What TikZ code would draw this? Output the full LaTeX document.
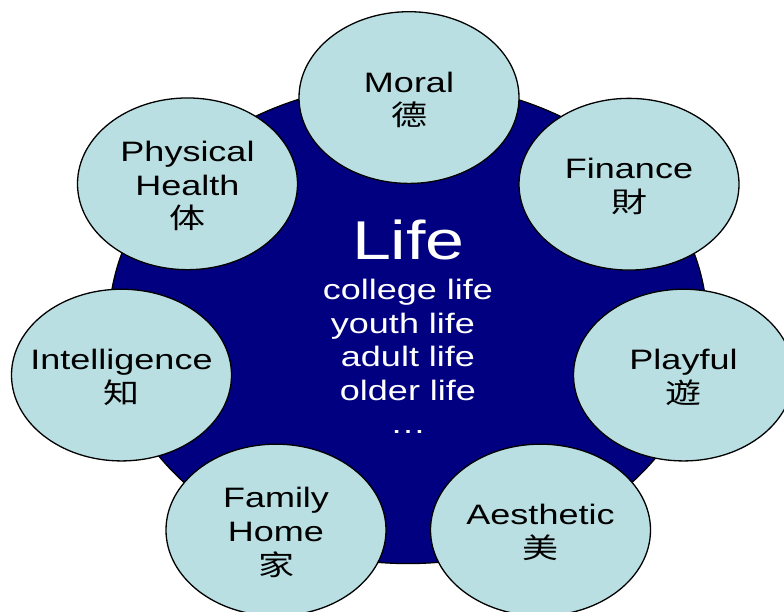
\documentclass[tikz,border=0pt]{standalone}
\usepackage{fontspec}
\setmainfont{Liberation Sans}
\newfontfamily\cjk{Noto Sans CJK SC}
\usetikzlibrary{shapes.geometric}
\definecolor{navy}{RGB}{0,0,128}
\definecolor{pale}{RGB}{185,223,226}
\tikzset{
  bub/.style={circle, draw=black, fill=pale, line width=1.3pt, minimum size=220pt,
    inner sep=0pt},
  bubtxt/.style={inner sep=0pt, align=center, text=black, yshift=-3pt,
    font=\fontsize{36}{43}\selectfont},
  core/.style={ellipse, draw=black, fill=navy, line width=1.2pt,
    minimum width=598pt, minimum height=616pt, inner sep=0pt},
  whitetxt/.style={text=white, inner sep=0pt, anchor=base, font=\fontsize{36}{43}\selectfont},
}
\begin{document}
\begin{tikzpicture}[x=1pt,y=-1pt]
\useasboundingbox (0,0) rectangle (784,612);
\begin{scope}[yscale=0.7806, transform shape]
  \node[core] (center) at (408,414) {};
  \node[bub, label={[bubtxt]center:Moral\\{\cjk 德}}] (moral) at (409,125) {};
  \node[bub, label={[bubtxt]center:Finance\\{\cjk 財}}] (finance) at (629,236) {};
  \node[bub, label={[bubtxt]center:Physical\\Health\\{\cjk 体}}] (physical) at (187.5,235.5) {};
  \node[bub, label={[bubtxt]center:Intelligence\\{\cjk 知}}] (intel) at (121.5,480.5) {};
  \node[bub, label={[bubtxt]center:Playful\\{\cjk 遊}}] (playful) at (683.5,480.5) {};
  \node[bub, label={[bubtxt]center:Family\\Home\\{\cjk 家}}] (family) at (276,679) {};
  \node[bub, label={[bubtxt]center:Aesthetic\\{\cjk 美}}] (aesthetic) at (540.5,679) {};
  \node[whitetxt, font=\fontsize{70}{80}\selectfont] (life) at (408.5,332.5) {Life};
  \node[whitetxt] (college) at (408,384) {college life};
  \node[whitetxt] (youth) at (403,427) {youth life};
  \node[whitetxt] (adult) at (408,470) {adult life};
  \node[whitetxt] (older) at (408,512.5) {older life};
  \node[whitetxt] (dots) at (408,555) {\ldots};
\end{scope}
\end{tikzpicture}
\end{document}
